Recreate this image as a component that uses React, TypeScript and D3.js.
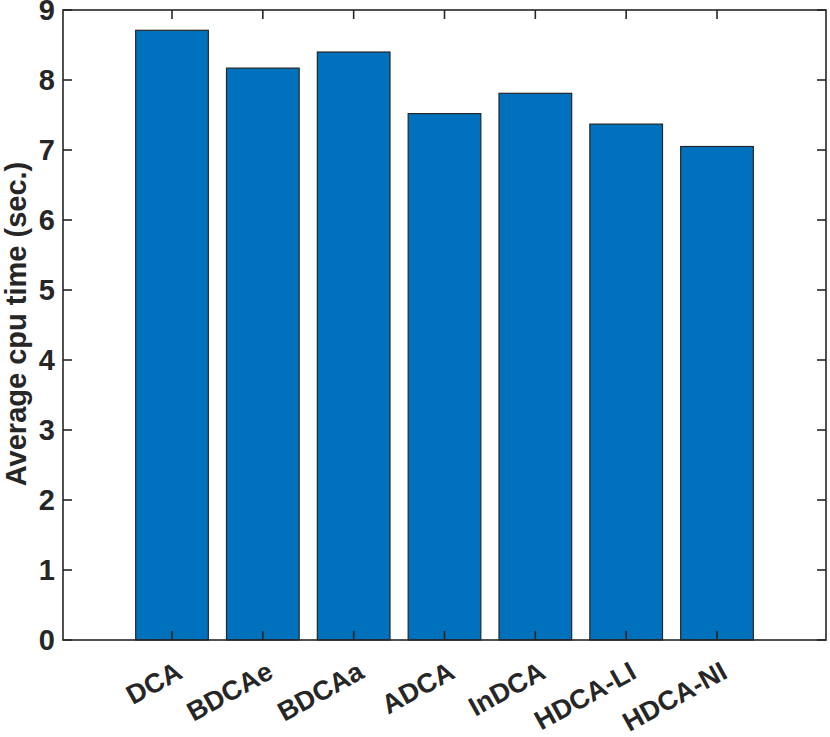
import { useEffect, useRef } from "react";
import * as d3 from "d3";

const categories = ["DCA", "BDCAe", "BDCAa", "ADCA", "InDCA", "HDCA-LI", "HDCA-NI"];
const cpuTimes = [8.71, 8.17, 8.4, 7.52, 7.81, 7.37, 7.05];
const yTicks = [0, 1, 2, 3, 4, 5, 6, 7, 8, 9];

export default function App() {
  const ref = useRef<SVGSVGElement | null>(null);
  const svgWidth = 830;
  const svgHeight = 737;

  useEffect(() => {
    const svg = d3.select(ref.current);
    svg.selectAll("*").remove();

    const left = 63, right = 826, top = 10, bottom = 640;
    const axisColor = "#262626";
    const font = "'Liberation Sans', Arial, Helvetica, sans-serif";

    // category i sits at position i+1, MATLAB-ish padding on each side
    const x = d3.scaleLinear().domain([-0.2, 8.2]).range([left, right]);
    const y = d3.scaleLinear().domain([0, 9]).range([bottom, top]);
    const step = x(2) - x(1);
    const barW = step * 0.8;

    // bars
    svg.append("g")
      .selectAll("rect")
      .data(cpuTimes)
      .join("rect")
      .attr("x", (d, i) => x(i + 1) - barW / 2)
      .attr("y", d => y(d))
      .attr("width", barW)
      .attr("height", d => y(0) - y(d))
      .attr("fill", "#0072BD")
      .attr("stroke", axisColor)
      .attr("stroke-width", 1.2);

    // box
    svg.append("rect")
      .attr("x", left)
      .attr("y", top)
      .attr("width", right - left)
      .attr("height", bottom - top)
      .attr("fill", "none")
      .attr("stroke", axisColor)
      .attr("stroke-width", 1.6);

    const tickLen = 9;
    const ticks = svg.append("g").attr("stroke", axisColor).attr("stroke-width", 1.6);

    // x ticks, bottom and top, pointing in
    categories.forEach((c, i) => {
      const px = x(i + 1);
      ticks.append("line").attr("x1", px).attr("x2", px).attr("y1", bottom).attr("y2", bottom - tickLen);
      ticks.append("line").attr("x1", px).attr("x2", px).attr("y1", top).attr("y2", top + tickLen);
    });

    // y ticks, left and right
    yTicks.forEach(t => {
      const py = y(t);
      ticks.append("line").attr("x1", left).attr("x2", left + tickLen).attr("y1", py).attr("y2", py);
      ticks.append("line").attr("x1", right).attr("x2", right - tickLen).attr("y1", py).attr("y2", py);
    });

    // y tick labels
    svg.append("g")
      .selectAll("text")
      .data(yTicks)
      .join("text")
      .attr("x", left - 8)
      .attr("y", d => y(d))
      .attr("dy", "0.36em")
      .attr("text-anchor", "end")
      .style("font-family", font)
      .style("font-weight", "bold")
      .style("font-size", "29px")
      .attr("fill", axisColor)
      .text(d => d);

    // x tick labels, rotated
    svg.append("g")
      .selectAll("text")
      .data(categories)
      .join("text")
      .attr("transform", (d, i) => `translate(${x(i + 1) + 12}, ${bottom + 37}) rotate(-29)`)
      .attr("text-anchor", "end")
      .style("font-family", font)
      .style("font-weight", "bold")
      .style("font-size", "27px")
      .attr("fill", axisColor)
      .text(d => d);

    // y axis title
    svg.append("text")
      .attr("transform", `translate(26, ${(top + bottom) / 2 - 1}) rotate(-90)`)
      .attr("text-anchor", "middle")
      .style("font-family", font)
      .style("font-weight", "bold")
      .style("font-size", "29px")
      .attr("fill", axisColor)
      .text("Average cpu time (sec.)");
  }, []);

  return (
    <svg
      ref={ref}
      width={svgWidth}
      height={svgHeight}
      style={{ position: "absolute", left: 0, top: 0, background: "#fff" }}
    />
  );
}
